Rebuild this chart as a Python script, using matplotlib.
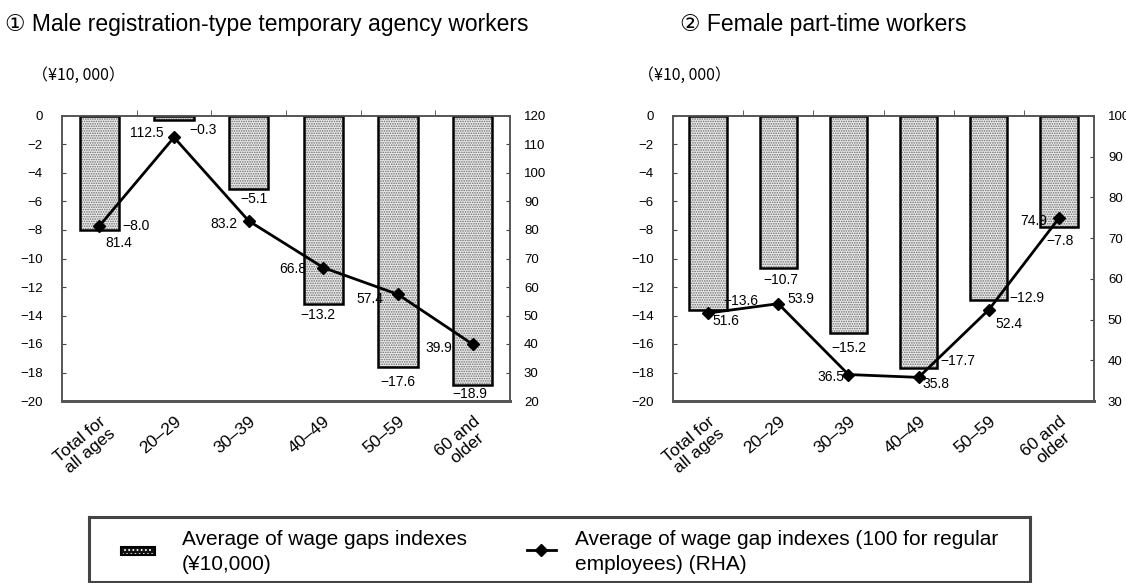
import matplotlib
matplotlib.use('Agg')
import matplotlib.pyplot as plt
import numpy as np
from matplotlib.patches import Rectangle

# data
categories = ['Total for\nall ages', '20–29', '30–39', '40–49', '50–59', '60 and\nolder']
male_gap = [-8.0, -0.3, -5.1, -13.2, -17.6, -18.9]
male_idx = [81.4, 112.5, 83.2, 66.8, 57.4, 39.9]
female_gap = [-13.6, -10.7, -15.2, -17.7, -12.9, -7.8]
female_idx = [51.6, 53.9, 36.5, 35.8, 52.4, 74.9]

# label offsets in pixels (dx, dy) - bar labels then line labels
male_bar_off = [(37, 4), (29, -10), (5, -10), (-5, -11), (0, -15), (-3, -9)]
male_line_off = [(19, -17), (-27, 4), (-25, -3), (-31, -1), (-28, -5), (-34, -4)]
female_bar_off = [(33, 9), (3, -12), (1, -15), (39, 7), (38, 2), (1, -14)]
female_line_off = [(18, -8), (23, 5), (-18, -2), (17, -7), (20, -14), (-25, -3)]

W, H = 1126, 583
plt.rcParams['hatch.linewidth'] = 0.8
num_font = ['Liberation Sans Narrow', 'Liberation Sans', 'DejaVu Sans']
txt_font = ['Liberation Sans', 'DejaVu Sans']

fig = plt.figure(figsize=(W / 100, H / 100), dpi=100)


def px_axes(x0, y0, x1, y1):
    return fig.add_axes([x0 / W, 1 - y1 / H, (x1 - x0) / W, (y1 - y0) / H])


def fmt(v):
    return ('%.1f' % v).replace('-', '−')


def panel(ax, gaps, idx, r_lim, r_ticks, bar_off, line_off):
    x = np.arange(len(categories))
    ax.bar(x, gaps, width=0.53, color='#ececec', edgecolor='#6a6a6a',
           linewidth=0, hatch='.......', zorder=2)
    ax.bar(x, gaps, width=0.53, fill=False, edgecolor='black',
           linewidth=1.8, zorder=3)
    ax.set_xlim(-0.5, len(categories) - 0.5)
    ax.set_ylim(-20, 0)
    ax.set_yticks(range(-20, 1, 2))
    ax.set_yticklabels([str(v).replace('-', '−') for v in range(-20, 1, 2)],
                       family=num_font, fontsize=9.5)
    ax.set_xticks(x)
    ax.set_xticklabels(categories, rotation=40, ha='right', va='top',
                       rotation_mode='anchor', family=txt_font, fontsize=12.5,
                       multialignment='center', linespacing=1.05)
    ax.tick_params(axis='x', which='major', length=0, pad=9)
    ax.set_xticks(np.arange(0.5, len(categories) - 0.5, 1), minor=True)
    ax.tick_params(axis='x', which='minor', bottom=False, top=True,
                   length=4, direction='out', color='#444')
    ax.tick_params(axis='y', direction='in', length=3, color='#444', pad=14)
    for s in ax.spines.values():
        s.set_color('#555')
        s.set_linewidth(1.2)
    ax.spines['bottom'].set_linewidth(2)

    ax2 = ax.twinx()
    ax2.plot(x, idx, color='black', lw=2, marker='D', ms=6.5, zorder=4)
    ax2.set_ylim(*r_lim)
    ax2.set_yticks(r_ticks)
    ax2.set_yticklabels([str(v) for v in r_ticks], family=num_font, fontsize=9.5)
    ax2.tick_params(axis='y', direction='in', length=3, color='#444', pad=10)
    for s in ax2.spines.values():
        s.set_color('#555')
        s.set_linewidth(1.2)
    ax2.spines['bottom'].set_linewidth(2)

    for i, v in enumerate(gaps):
        ax.annotate(fmt(v), (x[i], v), xytext=bar_off[i], textcoords='offset pixels',
                    ha='center', va='center', family=num_font, fontsize=10, zorder=5)
    for i, v in enumerate(idx):
        ax2.annotate(fmt(v), (x[i], v), xytext=line_off[i], textcoords='offset pixels',
                     ha='center', va='center', family=num_font, fontsize=10, zorder=5)


ax_m = px_axes(62, 116, 510, 401)
panel(ax_m, male_gap, male_idx, (20, 120), range(20, 121, 10), male_bar_off, male_line_off)
ax_f = px_axes(673, 116, 1094, 401)
panel(ax_f, female_gap, female_idx, (30, 100), range(30, 101, 10), female_bar_off, female_line_off)

# titles
fig.text(5 / W, 1 - 24 / H, '① Male registration-type temporary agency workers',
         family=txt_font, fontsize=16.5, va='center', ha='left')
fig.text(680 / W, 1 - 24 / H, '② Female part-time workers',
         family=txt_font, fontsize=16.5, va='center', ha='left')
cjk = ['Noto Sans CJK JP', 'DejaVu Sans']
fig.text(32 / W, 1 - 75 / H, '（¥10, 000）', family=cjk, fontsize=11.5, va='center', ha='left')
fig.text(638 / W, 1 - 75 / H, '（¥10, 000）', family=cjk, fontsize=11.5, va='center', ha='left')

# legend box
lg = px_axes(89, 517, 1030, 582)
lg.set_xlim(89, 1030)
lg.set_ylim(582, 517)
lg.set_xticks([])
lg.set_yticks([])
for s in lg.spines.values():
    s.set_color('#444')
    s.set_linewidth(2.2)
lg.add_patch(Rectangle((121, 547), 34, 8, facecolor='#111111', edgecolor='black', linewidth=1.5))
lg.add_patch(Rectangle((123, 548.5), 30, 5, facecolor='none', edgecolor='white',
                       hatch='....', linewidth=0))
lg.text(182, 552, 'Average of wage gaps indexes\n(¥10,000)', family=txt_font,
        fontsize=15, va='center', ha='left', linespacing=1.45)
lg.plot([527, 556], [550, 550], color='black', lw=2)
lg.plot([541.5], [550], marker='D', color='black', ms=6.5)
lg.text(575, 552, 'Average of wage gap indexes (100 for regular\nemployees) (RHA)',
        family=txt_font, fontsize=15, va='center', ha='left', linespacing=1.45)

fig.savefig('out.png', dpi=100)
